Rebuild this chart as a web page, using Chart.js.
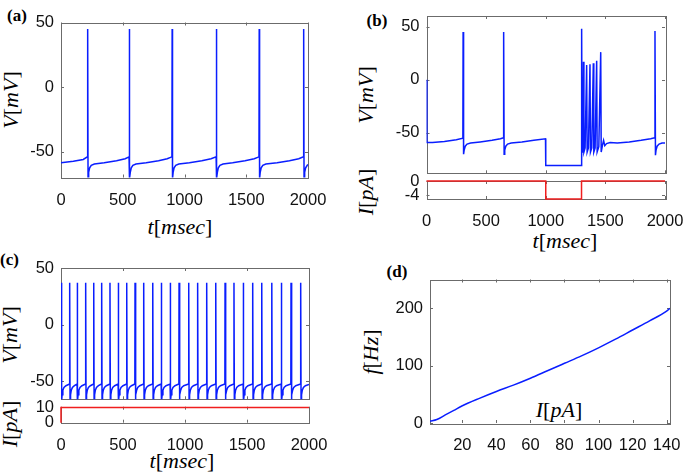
<!DOCTYPE html>
<html>
<head>
<meta charset="utf-8">
<script src="https://cdn.jsdelivr.net/npm/chart.js@4.4.1/dist/chart.umd.min.js"></script>
<style>
    body { margin: 0; background: #fff; }
    #fig { position: relative; width: 685px; height: 476px; overflow: hidden; font-family: "Liberation Serif", "DejaVu Serif", serif; color: #000; }
    #fig canvas { position: absolute; }
    .lab { position: absolute; white-space: nowrap; font-size: 22px; line-height: 1; transform: translate(-50%, -50%); }
    .lab.rot { transform: translate(-50%, -50%) rotate(-90deg); }
    .tag { position: absolute; white-space: nowrap; font-size: 17px; font-weight: bold; line-height: 1; transform: translate(-50%, -50%); }
</style>
</head>
<body>
<div id="fig">
    <div class="tag" style="left:17px;top:14.5px">(a)</div>
    <div class="tag" style="left:377px;top:20px">(b)</div>
    <div class="tag" style="left:9.5px;top:259px">(c)</div>
    <div class="tag" style="left:397px;top:271px">(d)</div>

    <div class="lab rot" style="left:11px;top:100px"><i>V</i>[<i>mV</i>]</div>
    <div class="lab" style="left:180px;top:227px"><i>t</i>[<i>msec</i>]</div>

    <div class="lab rot" style="left:366px;top:95px"><i>V</i>[<i>mV</i>]</div>
    <div class="lab rot" style="left:366px;top:192px"><i>I</i>[<i>pA</i>]</div>
    <div class="lab" style="left:565px;top:241px"><i>t</i>[<i>msec</i>]</div>

    <div class="lab rot" style="left:10px;top:335px"><i>V</i>[<i>mV</i>]</div>
    <div class="lab rot" style="left:10px;top:424px"><i>I</i>[<i>pA</i>]</div>
    <div class="lab" style="left:182px;top:461px"><i>t</i>[<i>msec</i>]</div>

    <div class="lab rot" style="left:371px;top:352px"><i>f</i>[<i>Hz</i>]</div>
    <div class="lab" style="left:559px;top:410px"><i>I</i>[<i>pA</i>]</div>
</div>
<script>
// ---- data ----

// (a) membrane potential, regular spiking
const aTime = [0, 100, 180, 214,
    216, 219, 224, 232, 245, 270, 350, 450, 520, 551,
    553, 556, 561, 569, 582, 607, 690, 790, 860, 898,
    900, 903, 908, 916, 929, 954, 1040, 1140, 1215, 1256,
    1258, 1261, 1266, 1274, 1287, 1312, 1390, 1490, 1565, 1603,
    1605, 1608, 1613, 1621, 1634, 1659, 1750, 1850, 1925, 1963,
    1965, 1968, 1973, 1981, 1994, 2000];
const aVolt = [-58.6, -57.5, -56, -54,
    45, -71, -66, -62.5, -60.5, -59.5, -58.5, -57, -55.5, -54,
    45, -71, -66, -62.5, -60.5, -59.5, -58.5, -57, -55.5, -54,
    45, -71, -66, -62.5, -60.5, -59.5, -58.5, -57, -55.5, -54,
    45, -71, -66, -62.5, -60.5, -59.5, -58.5, -57, -55.5, -54,
    45, -71, -66, -62.5, -60.5, -59.5, -58.5, -57, -55.5, -54,
    45, -71, -66, -62.5, -60.5, -60];

// (b) membrane potential with hyperpolarising pulse, and the pulse itself
const bTime = [0, 3, 50, 150, 250, 305,
    307, 311, 316, 325, 340, 370, 450, 550, 620, 645,
    647, 651, 656, 665, 680, 710, 800, 900, 998,
    1000, 1299,
    1301, 1305, 1312, 1316, 1320, 1330, 1343, 1347, 1358, 1371, 1375, 1386,
    1399, 1403, 1414, 1427, 1431, 1445,
    1461, 1465, 1475, 1485, 1495, 1510, 1540, 1600, 1700, 1800, 1880, 1914,
    1916, 1920, 1925, 1934, 1950, 1975, 2000];
const bVolt = [0, -59, -59, -58, -56.5, -55,
    45, -70, -66, -62.5, -60.5, -59.5, -58.5, -57, -55.5, -54.5,
    45, -70, -66, -62.5, -60.5, -59.5, -58.5, -57, -55.5,
    -80.7, -80.7,
    48, -68, -62, 17, -68, -64, 14, -68, -64, 14.5, -68, -64,
    15.5, -68, -64, 18, -68, -63,
    26, -68, -62, -57, -62, -60, -59, -59.5, -58.5, -57, -55.5, -54.5,
    46, -71, -66, -62.5, -60.5, -59.5, -59.5];
const bPulseTime = [0, 1000, 1000, 1300, 1300, 2000];
const bPulseAmp = [0, 0, -5, -5, 0, 0];

// (c) tonic firing under a 10 pA step
const cSpikeTimes = [2, 70, 131, 199, 264, 328, 395, 462, 530, 597, 667, 740, 809, 881,
    952, 1030, 1102, 1175, 1248, 1323, 1395, 1470, 1546, 1619, 1700, 1777, 1855, 1933];
const cPeakV = 37;
const cAfterDt = [3, 7, 13, 22, 38];
const cAfterV = [-68, -62, -58, -55.5, -54];
const cPreSpikeV = -52.5;
const cEndV = -53;
const cStepTime = [0, 0, 2000];
const cStepAmp = [0, 10, 10];

// (d) f-I curve
const dCurrent = [1, 5, 10, 15, 20, 30, 40, 50, 60, 70, 80, 90, 100, 110, 120, 130, 140, 142];
const dFreq = [3, 6, 14, 22, 30, 43, 55, 66, 78, 91, 104, 117, 131, 146, 162, 178, 195, 200];

// tick labels
const timeTicks = [0, 500, 1000, 1500, 2000];
const voltTicks = [-50, 0, 50];
const bPulseTicks = [-4, 0];
const cStepTicks = [0, 10];
const dCurrentTicks = [20, 40, 60, 80, 100, 120, 140];
const dFreqTicks = [0, 100, 200];

// ---- styling ----
const traceBlue = '#0a1eff';
const stepRed = '#f01e1e';
const axisColor = '#6b6b6b';
const tickColor = '#111';

Chart.defaults.font.family = "'Liberation Sans', Arial, sans-serif";

// box around the plot area with inward tick marks on all four sides
const boxTicks = {
    id: 'boxTicks',
    beforeDatasetsDraw(chart) {
        const { ctx, chartArea: a, scales } = chart;
        const len = 3;
        ctx.save();
        ctx.strokeStyle = axisColor;
        ctx.lineWidth = 1;
        ctx.strokeRect(Math.round(a.left) + 0.5, Math.round(a.top) + 0.5,
            Math.round(a.right - a.left), Math.round(a.bottom - a.top));
        ctx.beginPath();
        scales.x.ticks.forEach(t => {
            const px = Math.round(scales.x.getPixelForValue(t.value)) + 0.5;
            ctx.moveTo(px, a.bottom); ctx.lineTo(px, a.bottom - len);
            ctx.moveTo(px, a.top); ctx.lineTo(px, a.top + len);
        });
        scales.y.ticks.forEach(t => {
            const py = Math.round(scales.y.getPixelForValue(t.value)) + 0.5;
            ctx.moveTo(a.left, py); ctx.lineTo(a.left + len, py);
            ctx.moveTo(a.right, py); ctx.lineTo(a.right - len, py);
        });
        ctx.stroke();
        ctx.restore();
    }
};

function toPoints(xs, ys) {
    return xs.map((x, i) => ({ x, y: ys[i] }));
}

// spike train of panel (c) assembled from the read spike times and the read waveform
const cTrace = [];
cSpikeTimes.forEach((ts, i) => {
    if (i > 0) cTrace.push({ x: ts - 1.5, y: cPreSpikeV });
    cTrace.push({ x: ts, y: cPeakV });
    cAfterDt.forEach((dt, k) => cTrace.push({ x: ts + dt, y: cAfterV[k] }));
});
cTrace.push({ x: 2000, y: cEndV });

function panel(box, cfg) {
    const canvas = document.createElement('canvas');
    canvas.width = box.w;
    canvas.height = box.h;
    canvas.style.left = box.left + 'px';
    canvas.style.top = box.top + 'px';
    canvas.style.width = box.w + 'px';
    canvas.style.height = box.h + 'px';
    document.getElementById('fig').appendChild(canvas);

    const noPad = s => { s.paddingLeft = 0; s.paddingRight = 0; s.paddingTop = 0; s.paddingBottom = 0; };

    return new Chart(canvas, {
        type: 'line',
        data: {
            datasets: [{
                data: cfg.data,
                borderColor: cfg.color,
                borderWidth: 1.5,
                pointRadius: 0,
                tension: 0,
                cubicInterpolationMode: cfg.smooth ? 'monotone' : 'default',
                clip: cfg.clip
            }]
        },
        options: {
            responsive: false,
            animation: false,
            devicePixelRatio: 1,
            layout: { padding: { top: cfg.padTop, right: cfg.padRight, left: 0, bottom: 0 } },
            plugins: { legend: { display: false }, tooltip: { enabled: false } },
            scales: {
                x: {
                    type: 'linear',
                    min: cfg.xMin,
                    max: cfg.xMax,
                    grid: { display: false, drawTicks: false },
                    border: { display: false },
                    ticks: {
                        display: cfg.xLabels,
                        autoSkip: false,
                        maxRotation: 0,
                        padding: 13,
                        color: tickColor,
                        font: { size: 16.5 },
                        callback: v => String(v)
                    },
                    afterBuildTicks: s => { s.ticks = cfg.xTicks.map(v => ({ value: v })); },
                    afterFit: s => { s.height = cfg.xHeight; noPad(s); }
                },
                y: {
                    type: 'linear',
                    min: cfg.yMin,
                    max: cfg.yMax,
                    grid: { display: false, drawTicks: false },
                    border: { display: false },
                    ticks: {
                        autoSkip: false,
                        padding: 7,
                        color: tickColor,
                        font: { size: 16.5 },
                        callback: v => String(v)
                    },
                    afterBuildTicks: s => { s.ticks = cfg.yTicks.map(v => ({ value: v })); },
                    afterFit: s => { s.width = cfg.yWidth; noPad(s); }
                }
            }
        },
        plugins: [boxTicks]
    });
}

// (a)
panel({ left: 0, top: 0, w: 340, h: 216 }, {
    data: toPoints(aTime, aVolt), color: traceBlue,
    padTop: 22.5, padRight: 32, yWidth: 61, xHeight: 38.5,
    xMin: 0, xMax: 2000, yMin: -70, yMax: 50,
    xTicks: timeTicks, yTicks: voltTicks, xLabels: true
});

// (b) voltage
panel({ left: 340, top: 0, w: 345, h: 176 }, {
    data: toPoints(bTime, bVolt), color: traceBlue,
    padTop: 16, padRight: 20, yWidth: 86.5, xHeight: 2.7,
    xMin: 0, xMax: 2000, yMin: -88, yMax: 60,
    xTicks: timeTicks, yTicks: voltTicks, xLabels: false
});

// (b) current
panel({ left: 340, top: 168, w: 345, h: 68 }, {
    data: toPoints(bPulseTime, bPulseAmp), color: stepRed, clip: 3,
    padTop: 13, padRight: 20, yWidth: 86.5, xHeight: 37,
    xMin: 0, xMax: 2000, yMin: -5, yMax: 0,
    xTicks: timeTicks, yTicks: bPulseTicks, xLabels: true
});

// (c) voltage
panel({ left: 0, top: 250, w: 340, h: 152 }, {
    data: cTrace, color: traceBlue,
    padTop: 18, padRight: 31, yWidth: 61, xHeight: 2.7,
    xMin: 0, xMax: 2000, yMin: -66, yMax: 50,
    xTicks: timeTicks, yTicks: voltTicks, xLabels: false
});

// (c) current
panel({ left: 0, top: 392, w: 340, h: 84 }, {
    data: toPoints(cStepTime, cStepAmp), color: stepRed, clip: 3,
    padTop: 14.7, padRight: 31, yWidth: 61, xHeight: 53.3,
    xMin: 0, xMax: 2000, yMin: 0, yMax: 10.5,
    xTicks: timeTicks, yTicks: cStepTicks, xLabels: true
});

// (d) f-I curve
panel({ left: 345, top: 255, w: 340, h: 221 }, {
    data: toPoints(dCurrent, dFreq), color: traceBlue, smooth: true,
    padTop: 24.5, padRight: 15, yWidth: 85, xHeight: 53,
    xMin: 1, xMax: 142, yMin: 0, yMax: 250,
    xTicks: dCurrentTicks, yTicks: dFreqTicks, xLabels: true
});
</script>
</body>
</html>
